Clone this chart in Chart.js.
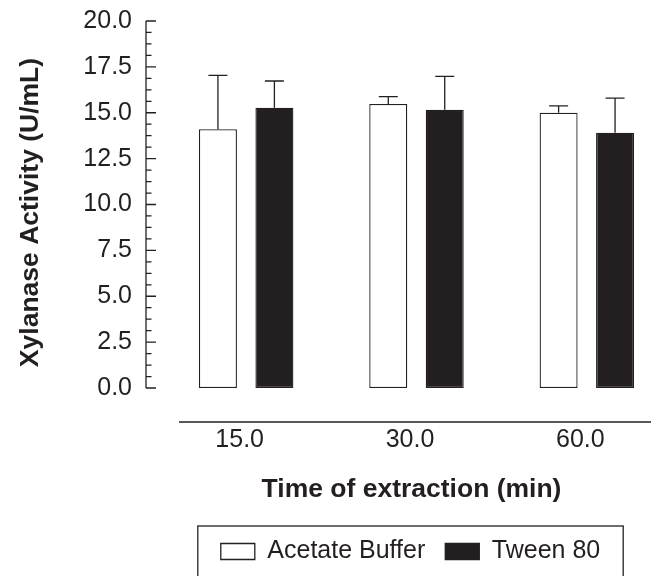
<!DOCTYPE html>
<html>
<head>
<meta charset="utf-8">
<title>Xylanase Activity</title>
<script src="https://cdn.jsdelivr.net/npm/chart.js@4.4.1/dist/chart.umd.min.js"></script>
<style>
  html, body { margin: 0; padding: 0; background: #fff; overflow: hidden; }
  #wrap { width: 700px; height: 576px; }
</style>
</head>
<body>
<div id="wrap"><canvas id="chart" width="700" height="576"></canvas></div>
<script>
// values
const times = ['15.0', '30.0', '60.0'];
const acetateBuffer = [14.1, 15.48, 15.0];
const acetateBufferSd = [2.94, 0.40, 0.37];
const tween80 = [15.27, 15.17, 13.91];
const tween80Sd = [1.46, 1.81, 1.89];
const yMajorStep = 2.5;
const yMinorStep = 0.625;
const yTitle = 'Xylanase Activity (U/mL)';
const xTitle = 'Time of extraction (min)';

const ink = '#231f20';
const family = '"Liberation Sans", Arial, Helvetica, sans-serif';
const titleFont = 'bold 26.5px ' + family;
const errors = [acetateBufferSd, tween80Sd];

// draws the detached axes, minor ticks, error bars, axis titles and the legend frame
const frameAndErrors = {
  id: 'frameAndErrors',
  afterLayout(chart) {
    // the original legend sits a little left of the plot centre
    chart.legend.left -= 6;
    chart.legend.right -= 6;
  },
  afterDatasetsDraw(chart) {
    const { ctx, chartArea, scales: { y } } = chart;
    ctx.save();
    ctx.strokeStyle = ink;
    ctx.lineWidth = 1.3;

    // error bars, upper half only
    chart.data.datasets.forEach((ds, i) => {
      chart.getDatasetMeta(i).data.forEach((bar, j) => {
        const top = y.getPixelForValue(ds.data[j] + errors[i][j]);
        ctx.beginPath();
        ctx.moveTo(bar.x, bar.y);
        ctx.lineTo(bar.x, top);
        ctx.moveTo(bar.x - 9.5, top);
        ctx.lineTo(bar.x + 9.5, top);
        ctx.stroke();
      });
    });

    // y axis, pulled away from the bars
    const ax = chartArea.left - 15;
    ctx.beginPath();
    ctx.moveTo(ax, y.getPixelForValue(y.min));
    ctx.lineTo(ax, y.getPixelForValue(y.max));
    for (let v = y.min; v <= y.max + 1e-9; v += yMinorStep) {
      const py = y.getPixelForValue(v);
      const major = Math.abs(v / yMajorStep - Math.round(v / yMajorStep)) < 1e-6;
      ctx.moveTo(ax, py);
      ctx.lineTo(ax + (major ? 10 : 5.5), py);
    }
    ctx.stroke();

    // x axis line below the bars
    const bx = chartArea.bottom + 34;
    ctx.beginPath();
    ctx.moveTo(chartArea.left + 18, bx);
    ctx.lineTo(chartArea.right, bx);
    ctx.stroke();

    // axis titles
    ctx.fillStyle = ink;
    ctx.font = titleFont;
    ctx.textAlign = 'center';
    ctx.textBaseline = 'middle';
    ctx.fillText(xTitle, (chartArea.left + chartArea.right) / 2 - 5, chartArea.bottom + 102);
    ctx.translate(31, (chartArea.top + chartArea.bottom) / 2 + 8);
    ctx.rotate(-Math.PI / 2);
    ctx.fillText(yTitle, 0, 0);
    ctx.restore();
  },
  afterDraw(chart) {
    const boxes = chart.legend.legendHitBoxes;
    if (!boxes || !boxes.length) return;
    const { ctx } = chart;
    const left = Math.min(...boxes.map(b => b.left)) - 23;
    const right = Math.max(...boxes.map(b => b.left + b.width)) + 23;
    const top = boxes[0].top - 13;
    ctx.save();
    ctx.strokeStyle = ink;
    ctx.lineWidth = 1.3;
    ctx.strokeRect(left, top, right - left, chart.height - top + 10);
    ctx.restore();
  }
};

new Chart(document.getElementById('chart'), {
  type: 'bar',
  data: {
    labels: times,
    datasets: [
      {
        label: 'Acetate Buffer',
        data: acetateBuffer,
        backgroundColor: '#ffffff',
        borderColor: ink,
        borderWidth: 1.3,
        borderSkipped: false,
        categoryPercentage: 0.663,
        barPercentage: 0.673
      },
      {
        label: 'Tween 80',
        data: tween80,
        backgroundColor: ink,
        borderColor: ink,
        borderWidth: 1.3,
        borderSkipped: false,
        categoryPercentage: 0.663,
        barPercentage: 0.673
      }
    ]
  },
  options: {
    responsive: false,
    animation: false,
    events: [],
    layout: { padding: { left: 0, right: 28, top: 21, bottom: 2 } },
    plugins: {
      tooltip: { enabled: false },
      legend: {
        position: 'bottom',
        fullSize: false,
        labels: {
          color: ink,
          boxWidth: 34,
          boxHeight: 16,
          padding: 20,
          font: { family, size: 25 }
        }
      }
    },
    scales: {
      x: {
        // tickLength only spaces the labels; grid itself is hidden
        grid: { display: false, drawTicks: true, tickLength: 37.5 },
        border: { display: false },
        ticks: {
          color: ink,
          padding: 0,
          labelOffset: -6.5,
          font: { family, size: 25 }
        },
        afterFit(scale) { scale.height = 131; }
      },
      y: {
        min: 0,
        max: 20,
        grid: { display: false, drawTicks: true, tickLength: 29 },
        border: { display: false },
        ticks: {
          stepSize: yMajorStep,
          color: ink,
          padding: 0,
          font: { family, size: 25 },
          callback: v => v.toFixed(1)
        },
        afterFit(scale) { scale.width = 161; }
      }
    }
  },
  plugins: [frameAndErrors]
});
</script>
</body>
</html>
